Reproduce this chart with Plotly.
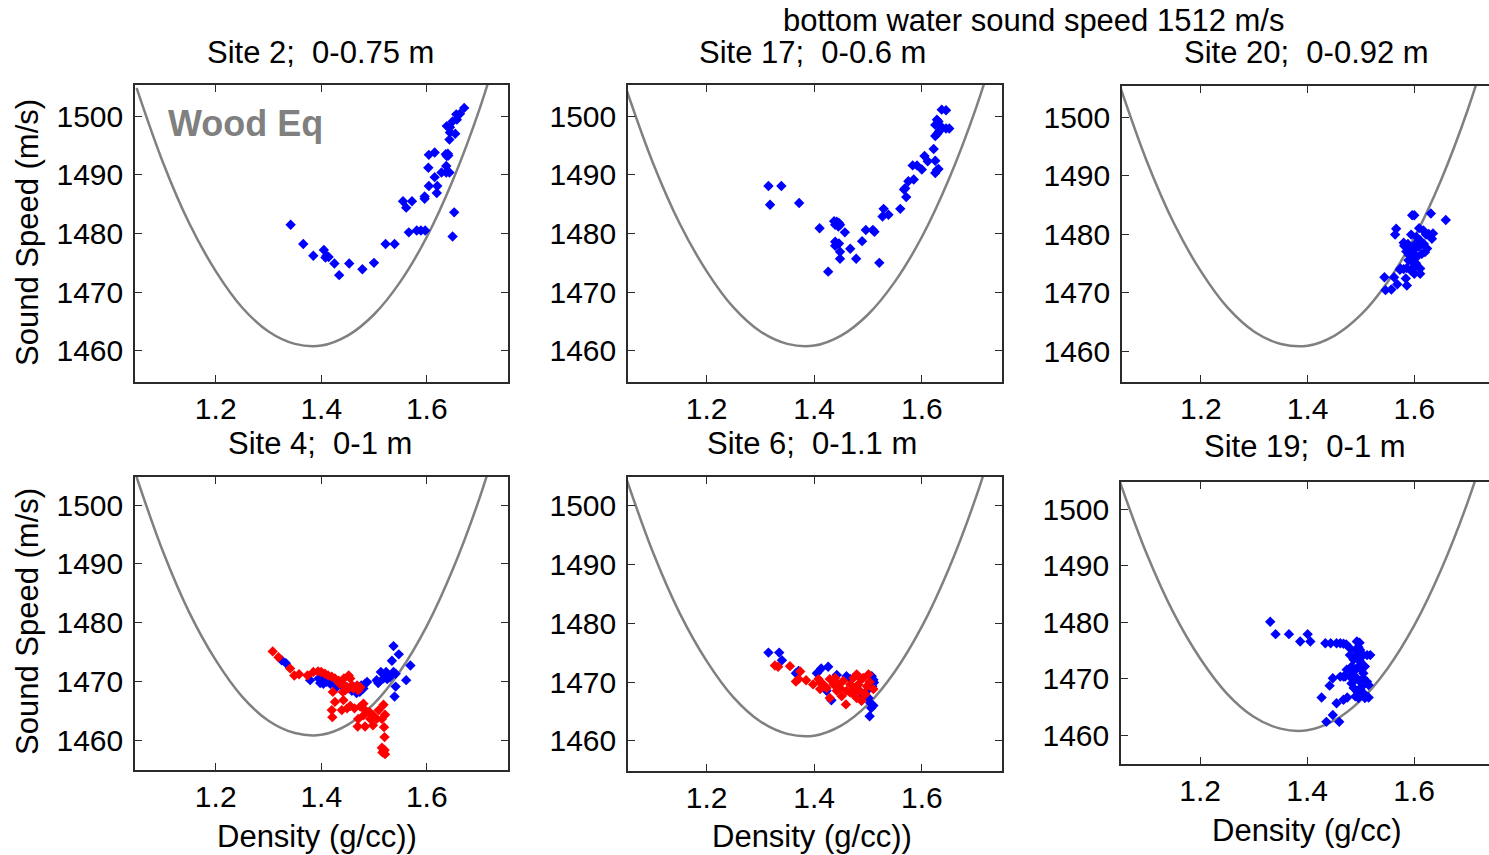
import plotly.graph_objects as go

W, H = 1489, 855
FONT = "Liberation Sans, Arial, sans-serif"

# ---- Wood equation curve ----
wood_density = [1.05, 1.10, 1.15, 1.20, 1.25, 1.30, 1.35, 1.40, 1.45, 1.50, 1.55, 1.60, 1.65, 1.70, 1.75]
wood_speed = [1504.8, 1492.1, 1481.7, 1473.6, 1467.4, 1463.3, 1461.2, 1460.9, 1462.6, 1466.2, 1471.8, 1479.4, 1489.2, 1501.2, 1515.7]

# ---- Site 2 ----
s2_density = [1.342, 1.366, 1.385, 1.405, 1.410, 1.408, 1.414, 1.425, 1.434, 1.453, 1.478, 1.500, 1.522, 1.539,
              1.555, 1.561, 1.572, 1.566, 1.581, 1.589, 1.597, 1.596, 1.596, 1.604, 1.620, 1.619, 1.615, 1.603,
              1.604, 1.615, 1.628, 1.637, 1.643, 1.638, 1.640, 1.641, 1.636, 1.637, 1.638, 1.644, 1.644, 1.654,
              1.643, 1.649, 1.657, 1.656, 1.663, 1.671, 1.652, 1.649]
s2_speed = [1481.5, 1478.2, 1476.2, 1477.2, 1476.2, 1475.9, 1476.0, 1474.9, 1472.9, 1474.9, 1473.9, 1475.0, 1478.2, 1478.2,
            1485.5, 1484.4, 1485.5, 1480.2, 1480.5, 1480.5, 1480.5, 1486.3, 1485.9, 1488.1, 1488.1, 1486.9, 1489.6, 1491.2,
            1493.4, 1493.8, 1490.4, 1490.4, 1490.4, 1493.2, 1493.6, 1493.3, 1493.5, 1491.5, 1498.3, 1498.1, 1497.2, 1497.0,
            1496.0, 1499.1, 1499.4, 1500.3, 1500.4, 1501.4, 1483.6, 1479.5]

# ---- Site 17 ----
s17_density = [1.315, 1.339, 1.318, 1.372, 1.410, 1.437, 1.442, 1.446, 1.439, 1.445, 1.448, 1.457, 1.439, 1.442,
               1.446, 1.439, 1.448, 1.448, 1.467, 1.478, 1.489, 1.426, 1.496, 1.509, 1.512, 1.521, 1.529, 1.527,
               1.538, 1.560, 1.567, 1.569, 1.571, 1.575, 1.585, 1.583, 1.591, 1.600, 1.605, 1.611, 1.625, 1.622,
               1.625, 1.628, 1.631, 1.625, 1.629, 1.632, 1.625, 1.628, 1.631, 1.634, 1.637, 1.645, 1.651, 1.637, 1.645]
s17_speed = [1488.1, 1488.1, 1484.9, 1485.2, 1480.9, 1482.1, 1482.0, 1481.8, 1481.5, 1481.2, 1481.5, 1480.2, 1478.6, 1478.2,
             1478.3, 1477.9, 1476.9, 1475.7, 1477.4, 1475.7, 1478.7, 1473.5, 1480.6, 1480.6, 1480.3, 1475.0, 1484.2, 1482.9,
             1483.2, 1484.2, 1487.5, 1487.7, 1486.2, 1488.9, 1489.2, 1491.6, 1491.6, 1490.9, 1493.2, 1492.3, 1492.4, 1494.4,
             1490.3, 1490.8, 1491.0, 1496.6, 1497.0, 1497.4, 1498.5, 1499.4, 1499.1, 1498.4, 1497.9, 1497.9, 1497.9, 1501.1, 1501.0]

# ---- Site 20 ----
s20_density = [1.596, 1.600, 1.631, 1.659, 1.566, 1.564, 1.580, 1.585, 1.581, 1.588, 1.594, 1.617, 1.622, 1.627, 1.635,
               1.633, 1.624, 1.611, 1.608, 1.602, 1.599, 1.596, 1.605, 1.614, 1.591, 1.596, 1.602, 1.611, 1.593, 1.600,
               1.611, 1.589, 1.598, 1.604, 1.618, 1.574, 1.573, 1.580, 1.586, 1.544, 1.562, 1.568, 1.584, 1.586, 1.546,
               1.557, 1.603, 1.620, 1.590, 1.609]
s20_speed = [1483.2, 1483.2, 1483.5, 1482.4, 1480.9, 1479.9, 1478.5, 1477.0, 1478.0, 1478.3, 1479.9, 1480.6, 1479.9, 1480.0, 1480.1,
             1479.2, 1477.5, 1478.9, 1477.8, 1478.3, 1476.6, 1476.1, 1476.1, 1476.6, 1477.5, 1475.2, 1474.4, 1474.1, 1473.8, 1473.2,
             1473.2, 1475.5, 1477.2, 1479.5, 1478.3, 1474.1, 1473.9, 1474.0, 1474.2, 1472.6, 1472.6, 1471.4, 1472.4, 1471.2, 1470.4,
             1470.5, 1475.0, 1476.9, 1476.4, 1481.0]

# ---- Site 4 ----
s4_blue_density = [1.325, 1.333, 1.379, 1.395, 1.401, 1.404, 1.398, 1.410, 1.417, 1.429, 1.439, 1.448, 1.458, 1.467,
                   1.473, 1.480, 1.483, 1.487, 1.476, 1.470, 1.461, 1.505, 1.508, 1.513, 1.523, 1.518, 1.525, 1.530,
                   1.537, 1.541, 1.534, 1.537, 1.547, 1.569, 1.561, 1.541, 1.539]
s4_blue_speed = [1473.6, 1473.1, 1470.2, 1470.5, 1470.2, 1469.6, 1469.7, 1469.9, 1469.6, 1469.0, 1469.3, 1469.0, 1468.4, 1468.0,
                 1468.2, 1468.8, 1469.6, 1469.9, 1469.3, 1469.0, 1469.1, 1470.2, 1469.7, 1471.6, 1471.6, 1470.5, 1470.4, 1470.7,
                 1471.6, 1471.3, 1473.5, 1476.0, 1474.6, 1472.7, 1470.2, 1469.1, 1467.4]
s4_red_density = [1.308, 1.319, 1.341, 1.349, 1.358, 1.374, 1.385, 1.394, 1.400, 1.407, 1.413, 1.420, 1.426, 1.433,
                  1.435, 1.443, 1.452, 1.455, 1.449, 1.458, 1.468, 1.474, 1.443, 1.446, 1.452, 1.461, 1.470,
                  1.422, 1.426, 1.420, 1.421, 1.441, 1.442, 1.439, 1.449, 1.455, 1.463, 1.474, 1.480, 1.483, 1.491,
                  1.499, 1.509, 1.518, 1.521, 1.515, 1.505, 1.486, 1.480, 1.470, 1.469, 1.483, 1.493, 1.498, 1.519,
                  1.520, 1.515, 1.520, 1.516, 1.521, 1.518]
s4_red_speed = [1475.1, 1474.1, 1472.2, 1471.0, 1471.2, 1471.0, 1471.6, 1471.7, 1471.6, 1471.3, 1471.0, 1470.8, 1470.5, 1470.1,
                1469.6, 1469.3, 1471.0, 1470.5, 1469.0, 1469.3, 1469.3, 1469.0, 1470.5, 1468.5, 1468.8, 1468.8, 1468.5,
                1468.2, 1466.5, 1465.1, 1463.9, 1468.2, 1466.8, 1465.1, 1465.4, 1465.8, 1465.4, 1465.7, 1466.2, 1465.1,
                1464.8, 1464.2, 1465.1, 1466.0, 1464.3, 1463.6, 1463.6, 1464.8, 1464.2, 1463.6, 1462.3, 1462.3, 1463.6, 1462.5,
                1462.2, 1460.5, 1458.7, 1458.3, 1457.9, 1457.6, 1458.1]

# ---- Site 6 ----
s6_blue_density = [1.315, 1.335, 1.340, 1.366, 1.371, 1.405, 1.413, 1.426, 1.442, 1.460, 1.467, 1.423, 1.432, 1.507,
                   1.510, 1.511, 1.508, 1.498, 1.501, 1.504, 1.510, 1.506, 1.503, 1.485, 1.473]
s6_blue_speed = [1475.0, 1475.0, 1473.7, 1471.5, 1471.9, 1471.5, 1472.3, 1472.6, 1471.2, 1471.0, 1470.5, 1468.5, 1466.9, 1471.0,
                 1470.4, 1469.9, 1469.3, 1468.5, 1467.3, 1466.5, 1466.0, 1465.6, 1464.2, 1467.3, 1468.2]
s6_red_density = [1.327, 1.333, 1.355, 1.374, 1.366, 1.371, 1.385, 1.398, 1.408, 1.411, 1.417, 1.423, 1.429, 1.436,
                  1.442, 1.429, 1.448, 1.454, 1.460, 1.467, 1.473, 1.479, 1.482, 1.485, 1.491, 1.498, 1.501, 1.510,
                  1.473, 1.479, 1.459, 1.488, 1.411, 1.445, 1.467, 1.495, 1.476, 1.488, 1.451, 1.439, 1.503, 1.494]
s6_red_speed = [1472.8, 1472.6, 1472.7, 1471.8, 1470.1, 1470.5, 1470.3, 1469.6, 1470.5, 1468.8, 1469.6, 1469.0, 1470.5, 1469.6,
                1468.5, 1467.3, 1469.0, 1470.2, 1468.5, 1469.6, 1470.7, 1471.3, 1469.6, 1468.5, 1470.7, 1469.3, 1471.3, 1468.8,
                1467.9, 1467.3, 1466.2, 1466.8, 1469.9, 1469.6, 1468.2, 1467.9, 1469.0, 1470.5, 1467.6, 1470.7, 1470.0, 1468.0]

# ---- Site 19 ----
s19_density = [1.331, 1.341, 1.366, 1.401, 1.387, 1.406, 1.434, 1.444, 1.455, 1.462, 1.468, 1.473, 1.493, 1.498,
               1.480, 1.490, 1.496, 1.474, 1.471, 1.462, 1.468, 1.448, 1.442, 1.427, 1.475, 1.468, 1.455, 1.448, 1.436,
               1.460, 1.480, 1.487, 1.493, 1.499, 1.505, 1.512, 1.518, 1.483, 1.490, 1.496, 1.502, 1.508, 1.480, 1.487,
               1.493, 1.499, 1.505, 1.512, 1.515, 1.487, 1.493, 1.499, 1.505, 1.490, 1.496, 1.508, 1.515, 1.493, 1.499,
               1.487, 1.505, 1.483, 1.502]
s19_speed = [1480.1, 1477.9, 1477.9, 1477.9, 1476.6, 1476.6, 1476.3, 1476.3, 1476.3, 1476.3, 1476.2, 1476.1, 1476.6, 1476.4,
             1475.4, 1475.1, 1475.6, 1471.6, 1470.4, 1470.4, 1470.4, 1470.1, 1468.8, 1466.7, 1466.7, 1466.3, 1465.7, 1463.6,
             1462.4, 1462.4, 1474.2, 1473.4, 1473.9, 1473.1, 1474.2, 1474.2, 1474.2, 1472.2, 1471.6, 1472.2, 1471.6, 1472.2,
             1470.4, 1469.8, 1470.1, 1469.5, 1470.1, 1469.5, 1468.9, 1468.4, 1467.8, 1468.1, 1467.5, 1466.9, 1466.6, 1466.6,
             1466.7, 1474.8, 1475.1, 1471.3, 1471.0, 1469.2, 1468.6]

BLUE = "#0000ff"
RED = "#ff0000"

panel_series = [
    [(s2_density, s2_speed, BLUE)],
    [(s17_density, s17_speed, BLUE)],
    [(s20_density, s20_speed, BLUE)],
    [(s4_blue_density, s4_blue_speed, BLUE), (s4_red_density, s4_red_speed, RED)],
    [(s6_blue_density, s6_blue_speed, BLUE), (s6_red_density, s6_red_speed, RED)],
    [(s19_density, s19_speed, BLUE)],
]

# layout: pixel boxes (left, right, top, bottom) and axis ranges
panel_boxes = [
    (135, 508, 85, 382), (628, 1002, 85, 382), (1122, 1489, 86, 382),
    (135, 508, 477, 770), (628, 1002, 477, 771), (1121, 1489, 482, 764),
]
x_ranges = [(1.047, 1.754), (1.054, 1.749), (1.052, 1.740),
            (1.047, 1.754), (1.054, 1.749), (1.052, 1.740)]
y_ranges = [(1454.7, 1505.3), (1454.7, 1505.3), (1454.7, 1505.3),
            (1454.9, 1504.8), (1454.9, 1504.8), (1454.95, 1504.8)]
cropped = [False, False, True, False, False, True]

x_ticks = [1.2, 1.4, 1.6]
x_tick_text = ["1.2", "1.4", "1.6"]
y_ticks = [1460, 1470, 1480, 1490, 1500]
y_tick_text = ["1460", "1470", "1480", "1490", "1500"]

fig = go.Figure()
for i in range(6):
    n = "" if i == 0 else str(i + 1)
    xa, ya = "x" + n, "y" + n
    fig.add_trace(go.Scatter(x=wood_density, y=wood_speed, mode="lines", line_shape="spline",
                             line=dict(color="#808080", width=2.5), xaxis=xa, yaxis=ya,
                             showlegend=False, hoverinfo="skip"))
    for dens, spd, col in panel_series[i]:
        fig.add_trace(go.Scatter(x=dens, y=spd, mode="markers", xaxis=xa, yaxis=ya, showlegend=False,
                                 marker=dict(symbol="diamond", size=8, color=col, line=dict(width=0)),
                                 cliponaxis=True))
    l, r, t, b = panel_boxes[i]
    axis_common = dict(showline=True, linecolor="#2b2b2b", linewidth=1.5, ticks="inside", ticklen=7,
                       tickwidth=1.3, tickcolor="#2b2b2b", showgrid=False, zeroline=False)
    fig.layout["xaxis" + n] = dict(axis_common, domain=[l / W, r / W], range=list(x_ranges[i]),
                                   anchor=ya, tickvals=x_ticks, ticktext=x_tick_text, mirror="ticks",
                                   ticklabelstandoff=-1,
                                   tickfont=dict(family=FONT, size=30, color="black"))
    fig.layout["yaxis" + n] = dict(axis_common, domain=[1 - b / H, 1 - t / H], range=list(y_ranges[i]),
                                   anchor=xa, tickvals=y_ticks, ticktext=y_tick_text,
                                   mirror=False if cropped[i] else "ticks", ticklabelstandoff=4,
                                   tickfont=dict(family=FONT, size=30, color="black"))

titles = [
    ("bottom water sound speed 1512 m/s", 1033, 20),
    ("Site 2;  0-0.75 m", 320, 52), ("Site 17;  0-0.6 m", 812, 52), ("Site 20;  0-0.92 m", 1306, 52),
    ("Site 4;  0-1 m", 320, 443), ("Site 6;  0-1.1 m", 812, 443), ("Site 19;  0-1 m", 1305, 447),
    ("Density (g/cc))", 317, 836), ("Density (g/cc))", 812, 836), ("Density (g/cc)", 1306, 830),
]
annotations = []
for text, x, y in titles:
    annotations.append(dict(text=text, x=x / W, y=1 - y / H, xref="paper", yref="paper",
                            xanchor="center", yanchor="middle", showarrow=False,
                            font=dict(family=FONT, size=31, color="black")))
for y in (233, 622):
    annotations.append(dict(text="Sound Speed (m/s)", x=27 / W, y=1 - y / H, xref="paper", yref="paper",
                            xanchor="center", yanchor="middle", textangle=-90, showarrow=False,
                            font=dict(family=FONT, size=31, color="black")))
annotations.append(dict(text="<b>Wood Eq</b>", x=245 / W, y=1 - 123 / H, xref="paper", yref="paper",
                        xanchor="center", yanchor="middle", showarrow=False,
                        font=dict(family=FONT, size=36, color="#808080")))

fig.update_layout(width=W, height=H, margin=dict(l=0, r=0, t=0, b=0),
                  paper_bgcolor="white", plot_bgcolor="white", annotations=annotations,
                  showlegend=False)

fig.write_html("out.html", config={"displayModeBar": False})
